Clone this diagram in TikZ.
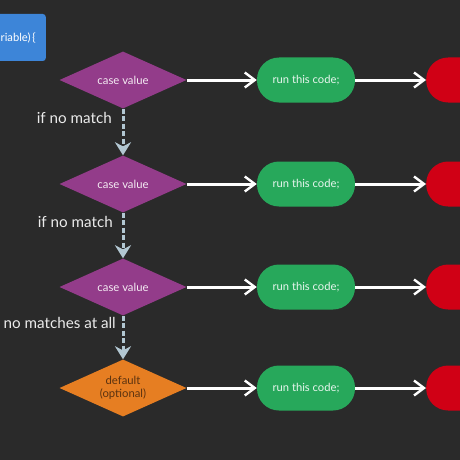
\documentclass[tikz,border=0pt]{standalone}
\usepackage{fontspec}
\setmainfont{Lato}
\usetikzlibrary{shapes.geometric,arrows.meta}
\definecolor{bg}{HTML}{2A2A2A}
\definecolor{caseC}{HTML}{933C8A}
\definecolor{defC}{HTML}{E67E22}
\definecolor{runC}{HTML}{27A85B}
\definecolor{brkC}{HTML}{D00015}
\definecolor{swC}{HTML}{3D85D8}
\definecolor{dashC}{HTML}{B2C7D2}
\definecolor{defT}{HTML}{5A3210}
\tikzset{
  casebox/.style={diamond, fill=caseC, minimum width=127pt, minimum height=57pt, inner sep=0pt, aspect=2.2, text=white!90!caseC, font=\fontsize{11.3}{13}\selectfont},
  defbox/.style={casebox, fill=defC, text=defT, align=center, font=\fontsize{11.3}{13}\selectfont},
  runbox/.style={rounded corners=22pt, fill=runC, minimum width=98pt, minimum height=45pt, inner sep=0pt, text=white!90!runC, font=\fontsize{11.2}{13}\selectfont},
  brkbox/.style={rounded corners=22pt, fill=brkC, minimum width=98pt, minimum height=45pt, inner sep=0pt, text=white, font=\fontsize{11.2}{13}\selectfont, anchor=west},
  flow/.style={draw=white, line width=3pt, -{Straight Barb[length=10pt,width=15pt,line width=2.4pt]}},
  nomatch/.style={draw=dashC, line width=3pt, dash pattern=on 5pt off 2.5pt, -{Stealth[length=13pt,width=16pt,inset=4pt]}},
  lbl/.style={text=white!92!black, font=\fontsize{15.2}{17}\selectfont, anchor=east, inner sep=0pt},
}
\begin{document}
\begin{tikzpicture}[x=1pt,y=-1pt]
\fill[bg] (0,0) rectangle (460,460);
\useasboundingbox (0,0) rectangle (460,460);
\begin{scope}
\clip (0,0) rectangle (460,460);
\node[fill=swC, rounded corners=3pt, minimum height=47pt, minimum width=60pt, text=white, font=\fontsize{11.2}{13}\selectfont, inner sep=0pt, anchor=east] (sw) at (46,37.5) {};
\node[text=white, font=\fontsize{11.2}{13}\selectfont, inner sep=0pt, anchor=west] (swt) at (0.5,37.5) {riable)\,\{};
\node[casebox] (c1) at (123,80) {case value};
\node[casebox] (c2) at (123,184) {case value};
\node[casebox] (c3) at (123,287) {case value};
\node[defbox] (d) at (123,388) {default\\(optional)};
\foreach \i/\y in {1/80,2/184,3/287,4/388}{
  \node[runbox] (r\i) at (306,\y) {run this code;};
  \node[brkbox] (b\i) at (426,\y) {\hspace*{26pt}break;};
}
\draw[flow] (c1.east) -- (r1.west);
\draw[flow] (c2.east) -- (r2.west);
\draw[flow] (c3.east) -- (r3.west);
\draw[flow] (d.east) -- (r4.west);
\foreach \i in {1,2,3,4}{
  \draw[flow] (r\i.east) -- (b\i.west);
}
\draw[nomatch] (c1.south) -- (c2.north);
\draw[nomatch] (c2.south) -- (c3.north);
\draw[nomatch] (c3.south) -- (d.north);
\node[lbl] (l1) at (112,118) {if no match};
\node[lbl] (l2) at (113,222) {if no match};
\node[lbl] (l3) at (116,323) {no matches at all};
\end{scope}
\end{tikzpicture}
\end{document}
